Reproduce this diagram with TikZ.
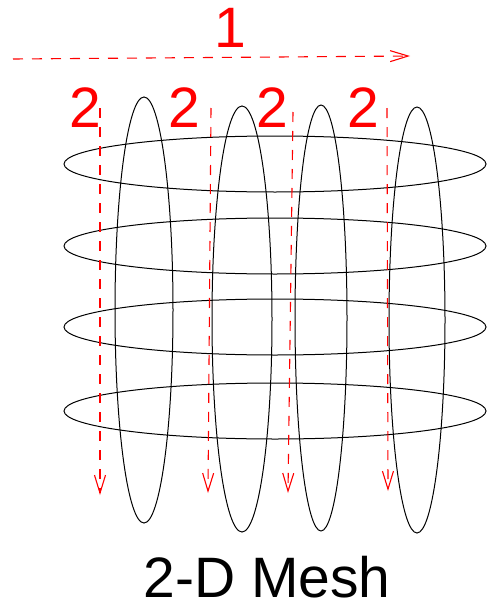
\documentclass[tikz,border=0pt]{standalone}
\usepackage{fontspec}
\setmainfont{Liberation Sans}
\usetikzlibrary{arrows.meta}

\begin{document}
\begin{tikzpicture}[x=1pt, y=-1pt,
  ring/.style={black, line width=1pt},
  flow/.style={red, line width=1.1pt, dash pattern=on 10pt off 9pt,
    -{Straight Barb[length=18pt,width=11pt]}},
  lbl/.style={red, font=\fontsize{57}{60}\selectfont, inner sep=0pt}]
 \useasboundingbox (0,0) rectangle (487,605);

 % Horizontal rings
 \foreach \y in {164,246,327,411} {
  \draw[ring] (275,\y) ellipse [x radius=211, y radius=28];
 }

 % Vertical rings
 \foreach \x/\y/\r in {144/310/29, 242/319/30, 321/318/26, 417/320/28} {
  \draw[ring] (\x,\y) ellipse [x radius=\r, y radius=213];
 }

 % Direction 1
 \coordinate (h0) at (13,59);
 \coordinate (h1) at (410,56);
 \draw[flow] (h0) -- (h1);
 \node[lbl] (one) at (230,28) {1};

 % Direction 2
 \foreach \i/\xa/\ya/\xb/\yb/\xl in {1/100/108/100/495/85, 2/211/108/208/493/184,
   3/293/112/288/493/272, 4/387/108/388/491/363} {
  \coordinate (v\i a) at (\xa,\ya);
  \coordinate (v\i b) at (\xb,\yb);
  \draw[flow] (v\i a) -- (v\i b);
  \node[lbl] (two\i) at (\xl,108) {2};
 }

 % Caption
 \node[font=\fontsize{57}{60}\selectfont, inner sep=0pt] (caption) at (267,577) {2-D Mesh};
\end{tikzpicture}
\end{document}
